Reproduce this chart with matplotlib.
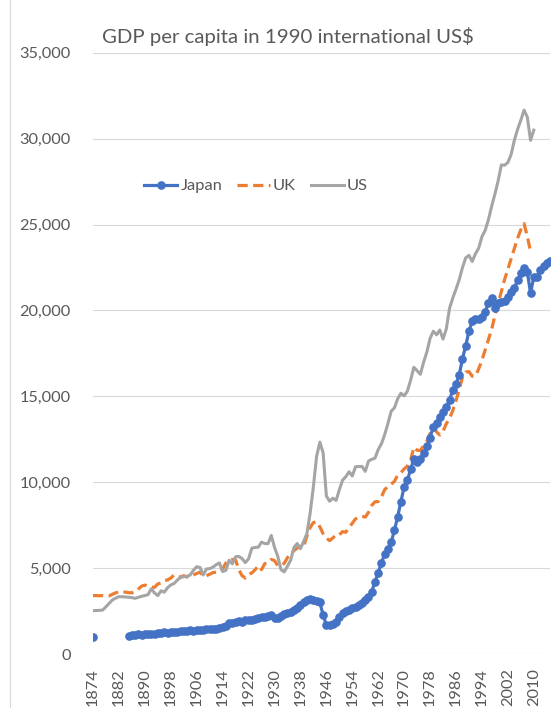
import numpy as np
import matplotlib
matplotlib.use('Agg')
import matplotlib.pyplot as plt
from matplotlib.lines import Line2D

plt.rcParams['font.family'] = ['Lato', 'DejaVu Sans']

# categories: one per year, 1874..2015
years = list(range(1874, 2016))

N = None
japan = [990, N, N, N, N, N, N, N, N, N, N,
         1070, 1090, 1130, 1150, 1110, 1140, 1160, 1190, 1170, 1200,
         1230, 1260, 1220, 1290, 1300, 1270, 1320, 1330, 1340, 1380,
         1360, 1390, 1410, 1410, 1430, 1460, 1450, 1440, 1500, 1560,
         1640, 1800, 1830, 1850, 1900, 1880, 1960, 1950, 1990, 2050,
         2080, 2130, 2150, 2200, 2260, 2070, 2090, 2220, 2330, 2380,
         2450, 2560, 2650, 2850, 3050, 3150, 3200, 3140, 3100, 3000,
         2270, 1690, 1690, 1730, 1880, 2130, 2370, 2500, 2560, 2660,
         2750, 2850, 2990, 3140, 3340, 3630, 4210, 4730, 5320, 5800,
         6100, 6500, 7200, 7990, 8870, 9740, 10100, 10750, 11350, 11150,
         11350, 11680, 12100, 12600, 13200, 13450, 13800, 14100, 14350, 14800,
         15350, 15700, 16250, 17190, 17940, 18790, 19360, 19480, 19500, 19600,
         19900, 20450, 20700, 20150, 20450, 20500, 20520, 20800, 21050, 21300,
         21750, 22150, 22450, 22250, 21000, 21950, 21950, 22350, 22600, 22750,
         22850]

uk = [3400, 3400, 3390, 3400, 3390, 3380, 3480, 3560, 3620, 3630,
      3600, 3570, 3560, 3620, 3780, 3950, 4010, 3960, 3900, 3880,
      4080, 4130, 4270, 4310, 4420, 4600, 4520, 4480, 4560, 4480,
      4500, 4600, 4690, 4760, 4530, 4560, 4640, 4740, 4760, 4950,
      4960, 5300, 5430, 5500, 5470, 4900, 4560, 4420, 4640, 4720,
      4900, 5140, 4910, 5260, 5300, 5500, 5440, 5140, 5150, 5280,
      5610, 5800, 6020, 6160, 6270, 6260, 6860, 7370, 7650, 7700,
      7400, 7000, 6750, 6600, 6750, 6950, 6940, 7120, 7090, 7350,
      7620, 7870, 7930, 8020, 7970, 8240, 8650, 8860, 8870, 9150,
      9570, 9750, 9890, 10050, 10410, 10550, 10770, 10940, 11290, 12030,
      11860, 11850, 12120, 12380, 12830, 13170, 12930, 12750, 12960, 13400,
      13720, 14170, 14740, 15390, 16110, 16410, 16430, 16170, 16180, 16600,
      17100, 17700, 18300, 18900, 19700, 20400, 21100, 21800, 22400, 23000,
      23600, 24200, 24700, 25050, 24300, 23450]

us = [2520, 2530, 2540, 2560, 2750, 2950, 3150, 3250, 3340, 3330,
      3320, 3300, 3280, 3240, 3300, 3360, 3400, 3460, 3800, 3550,
      3400, 3680, 3600, 3860, 4020, 4100, 4300, 4450, 4500, 4520,
      4600, 4880, 5080, 5040, 4600, 4950, 4970, 5050, 5200, 5300,
      4800, 4870, 5460, 5250, 5660, 5680, 5550, 5320, 5540, 6160,
      6200, 6220, 6510, 6430, 6420, 6900, 6210, 5690, 4910, 4780,
      5110, 5470, 6200, 6430, 6130, 6560, 7010, 8210, 9740, 11520,
      12330, 11710, 9200, 8890, 9070, 8940, 9560, 10120, 10320, 10610,
      10360, 10900, 10910, 10920, 10630, 11230, 11330, 11400, 11900, 12240,
      12770, 13420, 14130, 14330, 14860, 15180, 15030, 15300, 15940, 16690,
      16490, 16280, 16980, 17570, 18370, 18790, 18580, 18860, 18330, 18920,
      20120, 20720, 21240, 21790, 22500, 23060, 23200, 22850, 23300, 23620,
      24290, 24660, 25280, 26060, 26770, 27540, 28470, 28450, 28610, 29070,
      29900, 30540, 31070, 31660, 31250, 29900, 30490]


def padded(vals, n):
    arr = np.full(n, np.nan)
    arr[:len(vals)] = [np.nan if v is None else v for v in vals]
    return arr


n = len(years)
x = np.arange(n)
grey_txt = '#595959'

fig = plt.figure(figsize=(5.58, 7.08), dpi=100)
W, H = 558, 708
ax = fig.add_axes([93 / W, 1 - 654 / H, (550 - 93) / W, (654 - 52.7) / H])

ax.plot(x, padded(japan, n), color='#4472C4', lw=2.3, marker='o', ms=5.2,
        label='Japan', zorder=3)
ax.plot(x, padded(uk, n), color='#ED7D31', lw=2.3, dashes=(3.2, 1.7),
        label='UK', zorder=2)
ax.plot(x, padded(us, n), color='#A5A5A5', lw=2.2, label='US', zorder=2)

ax.set_xlim(0, n - 1)
ax.set_ylim(0, 35000)
ax.set_yticks(np.arange(0, 35001, 5000))
ax.set_yticklabels([f'{v:,}' for v in range(0, 35001, 5000)])
ax.set_xticks(x[::8])
ax.set_xticklabels([str(y) for y in years[::8]], rotation=90)
ax.grid(axis='y', color='#d9d9d9', lw=0.8)
ax.set_axisbelow(True)
for s in ax.spines.values():
    s.set_visible(False)
ax.tick_params(axis='y', length=0, pad=16, labelsize=11.8, labelcolor=grey_txt)
ax.tick_params(axis='x', length=0, pad=10, labelsize=11.8, labelcolor=grey_txt)

leg = ax.legend(loc='center', bbox_to_anchor=(0.357, 0.778), ncol=3,
                frameon=False, fontsize=11.8, handlelength=2.0,
                handletextpad=0.2, columnspacing=0.9)
for t in leg.get_texts():
    t.set_color(grey_txt)

fig.text(288 / W, 1 - 37 / H, 'GDP per capita in 1990 international US$',
         ha='center', va='center', fontsize=14.7, color=grey_txt)

# chart frame edge on the left
fig.add_artist(Line2D([10 / W, 10 / W], [0, 1], color='#d9d9d9', lw=0.8))

fig.savefig('out.png', dpi=100)
